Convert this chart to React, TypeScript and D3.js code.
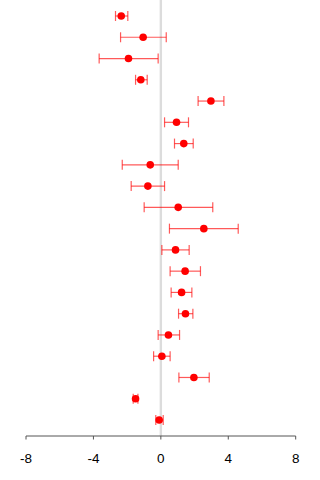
import React from "react";
import * as d3 from "d3";

// Study estimates with lower / upper confidence limits, listed top to bottom
const studies = ["S1","S2","S3","S4","S5","S6","S7","S8","S9","S10","S11","S12","S13","S14","S15","S16","S17","S18","S19","S20"];
const estimates = [-2.35,-1.05,-1.92,-1.19,2.97,0.93,1.36,-0.63,-0.77,1.03,2.55,0.87,1.44,1.23,1.46,0.45,0.06,1.96,-1.5,-0.1];
const lower = [-2.69,-2.39,-3.66,-1.5,2.21,0.22,0.81,-2.29,-1.76,-0.99,0.51,0.06,0.55,0.61,1.05,-0.16,-0.43,1.07,-1.64,-0.3];
const upper = [-1.96,0.32,-0.16,-0.81,3.74,1.64,1.92,1.03,0.22,3.08,4.59,1.68,2.35,1.84,1.9,1.11,0.55,2.87,-1.36,0.14];
const xTicks = [-8,-4,0,4,8];

const W = 320, H = 480;

export default function App() {
  const x = d3.scaleLinear().domain([-8, 8]).range([26, 295.7]);
  const y = d3.scalePoint<string>().domain(studies).range([16, 420]);
  const axisY = 436;

  return (
    <svg width={W} height={H} style={{ position: "absolute", left: 0, top: 0, background: "#fff" }}
      fontFamily="Liberation Sans, Arial, sans-serif">
      <line x1={x(0)} x2={x(0)} y1={0} y2={axisY} stroke="#dcdcdc" strokeWidth={2.4} />
      {studies.map((s, i) => {
        const cy = y(s)!;
        return (
          <g key={s} stroke="#ff0000" strokeOpacity={0.65} strokeWidth={1.2}>
            <line x1={x(lower[i])} x2={x(upper[i])} y1={cy} y2={cy} />
            <line x1={x(lower[i])} x2={x(lower[i])} y1={cy - 5} y2={cy + 5} />
            <line x1={x(upper[i])} x2={x(upper[i])} y1={cy - 5} y2={cy + 5} />
            <circle cx={x(estimates[i])} cy={cy} r={3.8} fill="#ff0000" stroke="none" />
          </g>
        );
      })}
      <line x1={x(-8)} x2={x(8)} y1={axisY} y2={axisY} stroke="#555" strokeWidth={1} />
      {xTicks.map((t) => (
        <g key={t}>
          <line x1={x(t)} x2={x(t)} y1={axisY} y2={axisY + 3.5} stroke="#555" strokeWidth={1} />
          <text x={x(t)} y={axisY + 27} textAnchor="middle" fontSize={13.5} fill="#000">{t}</text>
        </g>
      ))}
    </svg>
  );
}
